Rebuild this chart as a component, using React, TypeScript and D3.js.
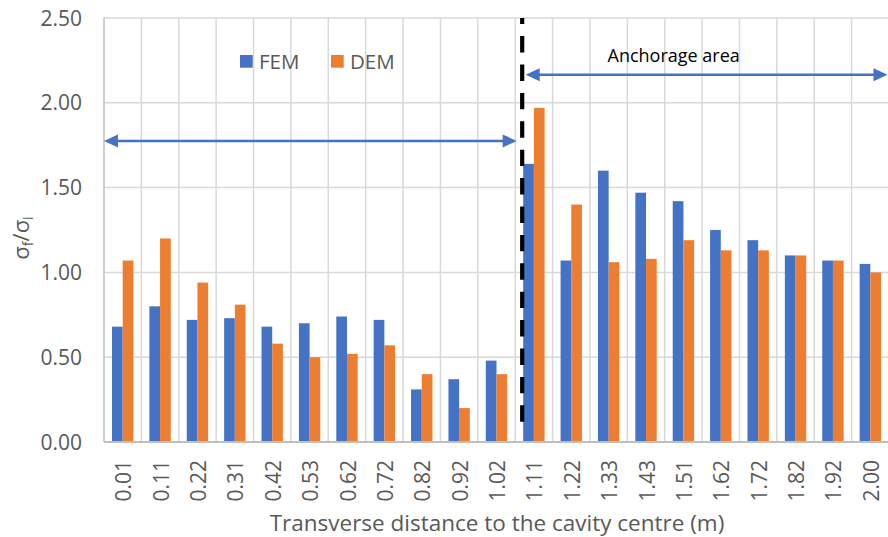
import React from "react";
import * as d3 from "d3";

// distances from the cavity centre (m)
const categories = ["0.01", "0.11", "0.22", "0.31", "0.42", "0.53", "0.62", "0.72", "0.82", "0.92", "1.02",
  "1.11", "1.22", "1.33", "1.43", "1.51", "1.62", "1.72", "1.82", "1.92", "2.00"];
const series = ["FEM", "DEM"];
const femValues = [0.68, 0.80, 0.72, 0.73, 0.68, 0.70, 0.74, 0.72, 0.31, 0.37, 0.48,
  1.64, 1.07, 1.60, 1.47, 1.42, 1.25, 1.19, 1.10, 1.07, 1.05];
const demValues = [1.07, 1.20, 0.94, 0.81, 0.58, 0.50, 0.52, 0.57, 0.40, 0.20, 0.40,
  1.97, 1.40, 1.06, 1.08, 1.19, 1.13, 1.13, 1.10, 1.07, 1.00];
const yTicks = [0, 0.5, 1, 1.5, 2, 2.5];

// annotation positions (data units)
const leftArrowValue = 1.775;
const rightArrowValue = 2.165;
const anchorageStart = "1.11";

const W = 888;
const H = 537;
const margin = { left: 104, right: -1, top: 18, bottom: 95 };
const colors = { FEM: "#4472C4", DEM: "#ED7D31" };
const font = "'Open Sans', 'Segoe UI', sans-serif";
const grey = "#595959";

export default function App() {
  const x = d3.scaleBand().domain(categories).range([margin.left, W - margin.right]);
  const inner = d3.scaleBand().domain(series).range([0, x.step()]).paddingOuter(0.75);
  const y = d3.scaleLinear().domain([0, 2.5]).range([H - margin.bottom, margin.top]);
  const fmt = d3.format(".2f");
  const values = { FEM: femValues, DEM: demValues };

  const x0 = margin.left;
  const x1 = W - margin.right;
  const yb = y(0);

  const arrow = (xa: number, xb: number, yy: number) => {
    const hl = 14, hw = 6.5;
    return (
      <g>
        <line x1={xa + hl - 1} x2={xb - hl + 1} y1={yy} y2={yy} stroke="#4472C4" strokeWidth={2.6} />
        <path d={`M${xa},${yy}L${xa + hl},${yy - hw}L${xa + hl},${yy + hw}Z`} fill="#4472C4" />
        <path d={`M${xb},${yy}L${xb - hl},${yy - hw}L${xb - hl},${yy + hw}Z`} fill="#4472C4" />
      </g>
    );
  };

  const dashX = (x(anchorageStart) as number) + 7;

  return (
    <svg width={W} height={H} style={{ position: "absolute", left: 0, top: 0, background: "#fff" }}
      fontFamily={font}>
      {/* horizontal grid */}
      {yTicks.map((t) => (
        <line key={"h" + t} x1={x0} x2={x1} y1={y(t)} y2={y(t)} stroke="#D9D9D9" strokeWidth={1.5} />
      ))}
      {/* vertical grid at category boundaries */}
      {categories.map((c, i) => (
        <line key={"v" + c} x1={(x(c) as number)} x2={(x(c) as number)} y1={y(2.5)} y2={yb}
          stroke={i === 0 ? "#BFBFBF" : "#D9D9D9"} strokeWidth={1.5} />
      ))}

      {/* bars */}
      {series.map((s) => (
        <g key={s} fill={colors[s]}>
          {categories.map((c, i) => (
            <rect key={c} x={(x(c) as number) + (inner(s) as number)} width={inner.bandwidth()}
              y={y(values[s][i])} height={yb - y(values[s][i])} />
          ))}
        </g>
      ))}

      {/* x axis line */}
      <line x1={x0} x2={x1} y1={yb} y2={yb} stroke="#BFBFBF" strokeWidth={2} />

      {/* y tick labels */}
      {yTicks.map((t) => (
        <text key={"yl" + t} x={82} y={y(t)} dy="0.36em" textAnchor="end" fontSize={21} fill={grey}>
          {fmt(t)}
        </text>
      ))}

      {/* x tick labels */}
      {categories.map((c) => {
        const cx = (x(c) as number) + x.bandwidth() / 2 + 1;
        return (
          <text key={"xl" + c} transform={`translate(${cx},460) rotate(-90)`} dy="0.36em"
            textAnchor="end" fontSize={21} fill={grey}>
            {c}
          </text>
        );
      })}

      {/* axis titles */}
      <text x={497} y={531} textAnchor="middle" fontSize={22.5} fill={grey}>
        Transverse distance to the cavity centre (m)
      </text>
      <text transform={`translate(29,${(y(2.5) + yb) / 2 + 8}) rotate(-90)`} textAnchor="middle"
        fontSize={22} fill={grey}>
        σ<tspan fontSize={14} dy={4}>f</tspan><tspan dy={-4}>/σ</tspan>
        <tspan fontSize={14} dy={4}>i</tspan>
      </text>

      {/* legend */}
      {series.map((s, i) => {
        const lx = i === 0 ? 240 : 331;
        return (
          <g key={"lg" + s}>
            <rect x={lx} y={55} width={12.7} height={12.7} fill={colors[s]} />
            <text x={lx + 19} y={69} fontSize={20.5} fill={grey}>{s}</text>
          </g>
        );
      })}

      {/* annotations */}
      {arrow(x0, dashX - 5.5, y(leftArrowValue))}
      {arrow(dashX + 3.5, x1 - 1.5, y(rightArrowValue))}
      <text x={607.5} y={62} fontSize={18} fill="#000">Anchorage area</text>
      <line x1={dashX} x2={dashX} y1={y(2.5)} y2={y(0.1)} stroke="#000" strokeWidth={4.2}
        strokeDasharray="16.4,12" strokeDashoffset={10.3} />
    </svg>
  );
}
